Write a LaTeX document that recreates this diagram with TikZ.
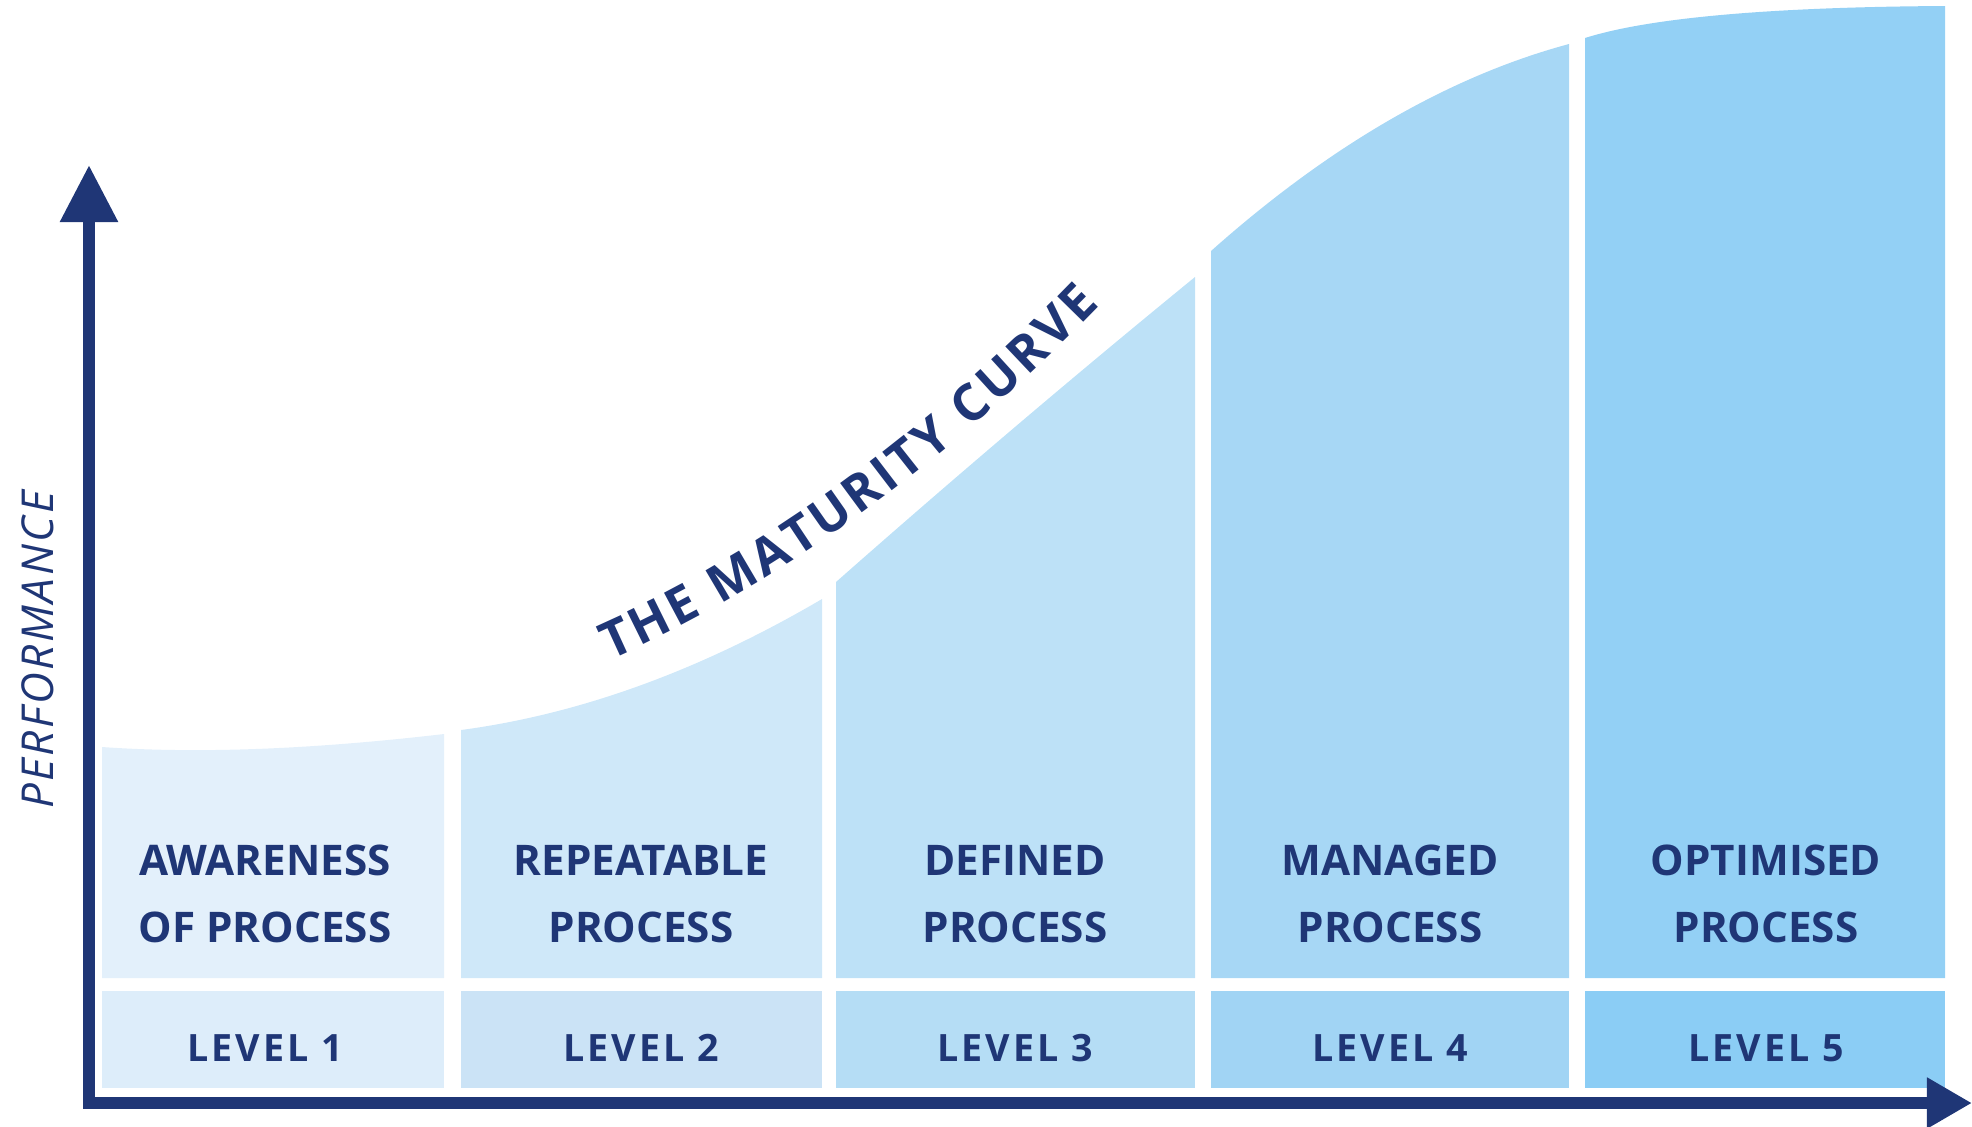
\documentclass[tikz,border=0pt]{standalone}
\usepackage{fontspec}
\setmainfont{Open Sans}
\usetikzlibrary{arrows.meta,decorations.text}
\definecolor{navy}{HTML}{1F3676}
\definecolor{col1}{HTML}{E3F0FB}
\definecolor{col2}{HTML}{CFE8F9}
\definecolor{col3}{HTML}{BDE1F7}
\definecolor{col4}{HTML}{A7D7F5}
\definecolor{col5}{HTML}{93D0F5}
\definecolor{lev1}{HTML}{DDEDFA}
\definecolor{lev2}{HTML}{CBE3F6}
\definecolor{lev3}{HTML}{B5DDF5}
\definecolor{lev4}{HTML}{A1D4F4}
\definecolor{lev5}{HTML}{8BCDF5}
\tikzset{
  x=0.01cm,
  y=-0.01cm,
}
\tikzstyle{axis}=[line width=1.2mm,draw=navy,line join=miter]
\tikzstyle{stage}=[text=navy,align=center,font=\bfseries\fontsize{12}{19}\selectfont]
\tikzstyle{level}=[text=navy,font=\bfseries\fontsize{10.7}{12}\selectfont\addfontfeature{LetterSpace=8}]

\begin{document}
\begin{tikzpicture}
  \useasboundingbox (0,0) rectangle (1972,1126);
  % columns under the curve
  \fill[col1] (102,978) -- (102,747) .. controls (201,754) and (315,749) .. (444,734) -- (444,978) -- cycle;
  \fill[col2] (461,978) -- (461,730) .. controls (581,714) and (701,670) .. (822,599) -- (822,978) -- cycle;
  \fill[col3] (836,978) -- (836,582) .. controls (955,477) and (1075,375) .. (1195,277) -- (1195,978) -- cycle;
  \fill[col4] (1211,978) -- (1211,251) .. controls (1330,145) and (1450,76) .. (1569,44) -- (1569,978) -- cycle;
  \fill[col5] (1585,978) -- (1585,38) .. controls (1648,18) and (1768,7) .. (1945,6) -- (1945,978) -- cycle;
  \fill[lev1] (102,991) rectangle (444,1088);
  \fill[lev2] (461,991) rectangle (822,1088);
  \fill[lev3] (836,991) rectangle (1195,1088);
  \fill[lev4] (1211,991) rectangle (1569,1088);
  \fill[lev5] (1585,991) rectangle (1945,1088);
  \node[stage] (stage1) at (265,894) {AWARENESS\\OF PROCESS};
  \node[stage] (stage2) at (641,894) {REPEATABLE\\PROCESS};
  \node[stage] (stage3) at (1015,894) {DEFINED\\PROCESS};
  \node[stage] (stage4) at (1390,894) {MANAGED\\PROCESS};
  \node[stage] (stage5) at (1766,894) {OPTIMISED\\PROCESS};
  \node[level] (level1) at (265,1048) {LEVEL 1};
  \node[level] (level2) at (641,1048) {LEVEL 2};
  \node[level] (level3) at (1015,1048) {LEVEL 3};
  \node[level] (level4) at (1390,1048) {LEVEL 4};
  \node[level] (level5) at (1766,1048) {LEVEL 5};
  % axes
  \draw[axis,{Triangle[length=5.7mm,width=5.5mm]}-{Triangle[length=4.5mm,width=4.8mm]}]
    (89,165) -- (89,1103) -- (1972,1103);
  \node[rotate=90,text=navy,font=\itshape\fontsize{12.5}{14}\selectfont\addfontfeature{LetterSpace=6}]
    (perf) at (38,650) {PERFORMANCE};
  \path[decorate,decoration={text along path,text color=navy,text align=fit to path,
      text={|\bfseries\fontsize{14.5}{15}\selectfont|THE MATURITY CURVE}}]
    (610,660) .. controls (793,579) and (961,449) .. (1100,305);
\end{tikzpicture}
\end{document}
